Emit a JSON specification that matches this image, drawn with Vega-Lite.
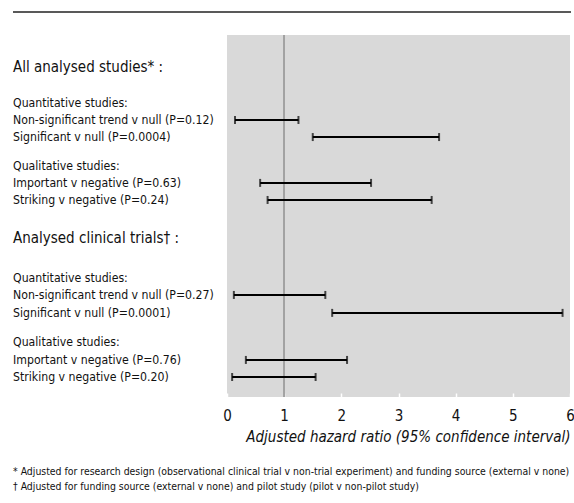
{
  "$schema": "https://vega.github.io/schema/vega-lite/v6.json",
  "padding": {"left": 12, "top": 11, "right": 4, "bottom": 4},
  "config": {
    "view": {"stroke": null},
    "font": "Liberation Sans Narrow, DejaVu Sans Condensed, Roboto, sans-serif",
    "text": {"color": "#111"}
  },
  "title": {
    "text": [
      "* Adjusted for research design (observational clinical trial v non-trial experiment) and funding source (external v none)",
      "† Adjusted for funding source (external v none) and pilot study (pilot v non-pilot study)"
    ],
    "orient": "bottom",
    "anchor": "start",
    "frame": "group",
    "fontSize": 10.4,
    "fontWeight": "normal",
    "lineHeight": 15,
    "color": "#111",
    "offset": 23
  },
  "datasets": {
    "rows": [
      {"label": "All analysed studies* :", "kind": "header", "row": 1.86},
      {"label": "Quantitative studies:", "kind": "sub", "row": 3.94},
      {"label": "Non-significant trend v null (P=0.12)", "kind": "row", "row": 4.93, "lo": 0.14, "hi": 1.25},
      {"label": "Significant v null (P=0.0004)", "kind": "row", "row": 5.92, "lo": 1.50, "hi": 3.71},
      {"label": "Qualitative studies:", "kind": "sub", "row": 7.6},
      {"label": "Important v negative (P=0.63)", "kind": "row", "row": 8.58, "lo": 0.58, "hi": 2.52},
      {"label": "Striking v negative (P=0.24)", "kind": "row", "row": 9.57, "lo": 0.71, "hi": 3.58},
      {"label": "Analysed clinical trials† :", "kind": "header", "row": 11.77},
      {"label": "Quantitative studies:", "kind": "sub", "row": 14.1},
      {"label": "Non-significant trend v null (P=0.27)", "kind": "row", "row": 15.08, "lo": 0.12, "hi": 1.72},
      {"label": "Significant v null (P=0.0001)", "kind": "row", "row": 16.12, "lo": 1.84, "hi": 5.87},
      {"label": "Qualitative studies:", "kind": "sub", "row": 17.81},
      {"label": "Important v negative (P=0.76)", "kind": "row", "row": 18.85, "lo": 0.33, "hi": 2.10},
      {"label": "Striking v negative (P=0.20)", "kind": "row", "row": 19.84, "lo": 0.09, "hi": 1.55}
    ]
  },
  "spacing": 23,
  "bounds": "flush",
  "vconcat": [
    {
      "width": 558,
      "height": 1,
      "data": {"values": [{}]},
      "mark": {"type": "rule", "color": "#222", "strokeWidth": 1.3},
      "encoding": {
        "x": {"datum": 0, "type": "quantitative", "scale": {"domain": [0, 1]}, "axis": null},
        "x2": {"datum": 1},
        "y": {"datum": 0, "type": "quantitative", "scale": {"domain": [0, 1]}, "axis": null}
      }
    },
    {
      "spacing": 0,
      "bounds": "flush",
      "hconcat": [
        {
          "width": 214,
          "height": 362,
          "data": {"name": "rows"},
          "mark": {"type": "text", "align": "left", "baseline": "middle"},
          "encoding": {
            "x": {"datum": 0, "type": "quantitative", "scale": {"domain": [0, 1]}, "axis": null},
            "y": {"field": "row", "type": "quantitative", "scale": {"domain": [0, 21], "reverse": true, "nice": false, "zero": false}, "axis": null},
            "text": {"field": "label"},
            "size": {"condition": {"test": "datum.kind === 'header'", "value": 15}, "value": 12.2}
          }
        },
        {
          "width": 343,
          "height": 362,
          "view": {"fill": "#d9d9d9", "stroke": null},
          "data": {"name": "rows"},
          "transform": [{"filter": "datum.kind === 'row'"}],
          "encoding": {
            "y": {"field": "row", "type": "quantitative", "scale": {"domain": [0, 21], "reverse": true, "nice": false, "zero": false}, "axis": null}
          },
          "layer": [
            {
              "mark": {"type": "rule", "color": "#a3a3a3", "strokeWidth": 1.5},
              "encoding": {
                "x": {"datum": 1, "type": "quantitative"},
                "y": null
              }
            },
            {
              "mark": {"type": "rule", "color": "#000", "strokeWidth": 2},
              "encoding": {
                "x": {
                  "field": "lo", "type": "quantitative",
                  "scale": {"domain": [0, 6], "nice": false, "zero": false},
                  "axis": {
                    "values": [0, 1, 2, 3, 4, 5, 6],
                    "format": "d",
                    "title": "Adjusted hazard ratio (95% confidence interval)",
                    "titleFontStyle": "italic",
                    "titleFontWeight": "normal",
                    "titleFontSize": 15,
                    "titleColor": "#111",
                    "titleAnchor": "end",
                    "titlePadding": 6,
                    "labelFontSize": 15,
                    "labelColor": "#111",
                    "labelFlush": false,
                    "labelPadding": 15,
                    "domain": false,
                    "grid": false,
                    "tickColor": "white",
                    "tickSize": -4,
                    "tickWidth": 1.5
                  }
                },
                "x2": {"field": "hi"}
              }
            },
            {
              "mark": {"type": "tick", "color": "#000", "orient": "vertical", "thickness": 2, "size": 8},
              "encoding": {"x": {"field": "lo", "type": "quantitative"}}
            },
            {
              "mark": {"type": "tick", "color": "#000", "orient": "vertical", "thickness": 2, "size": 8},
              "encoding": {"x": {"field": "hi", "type": "quantitative"}}
            }
          ]
        }
      ]
    }
  ]
}
